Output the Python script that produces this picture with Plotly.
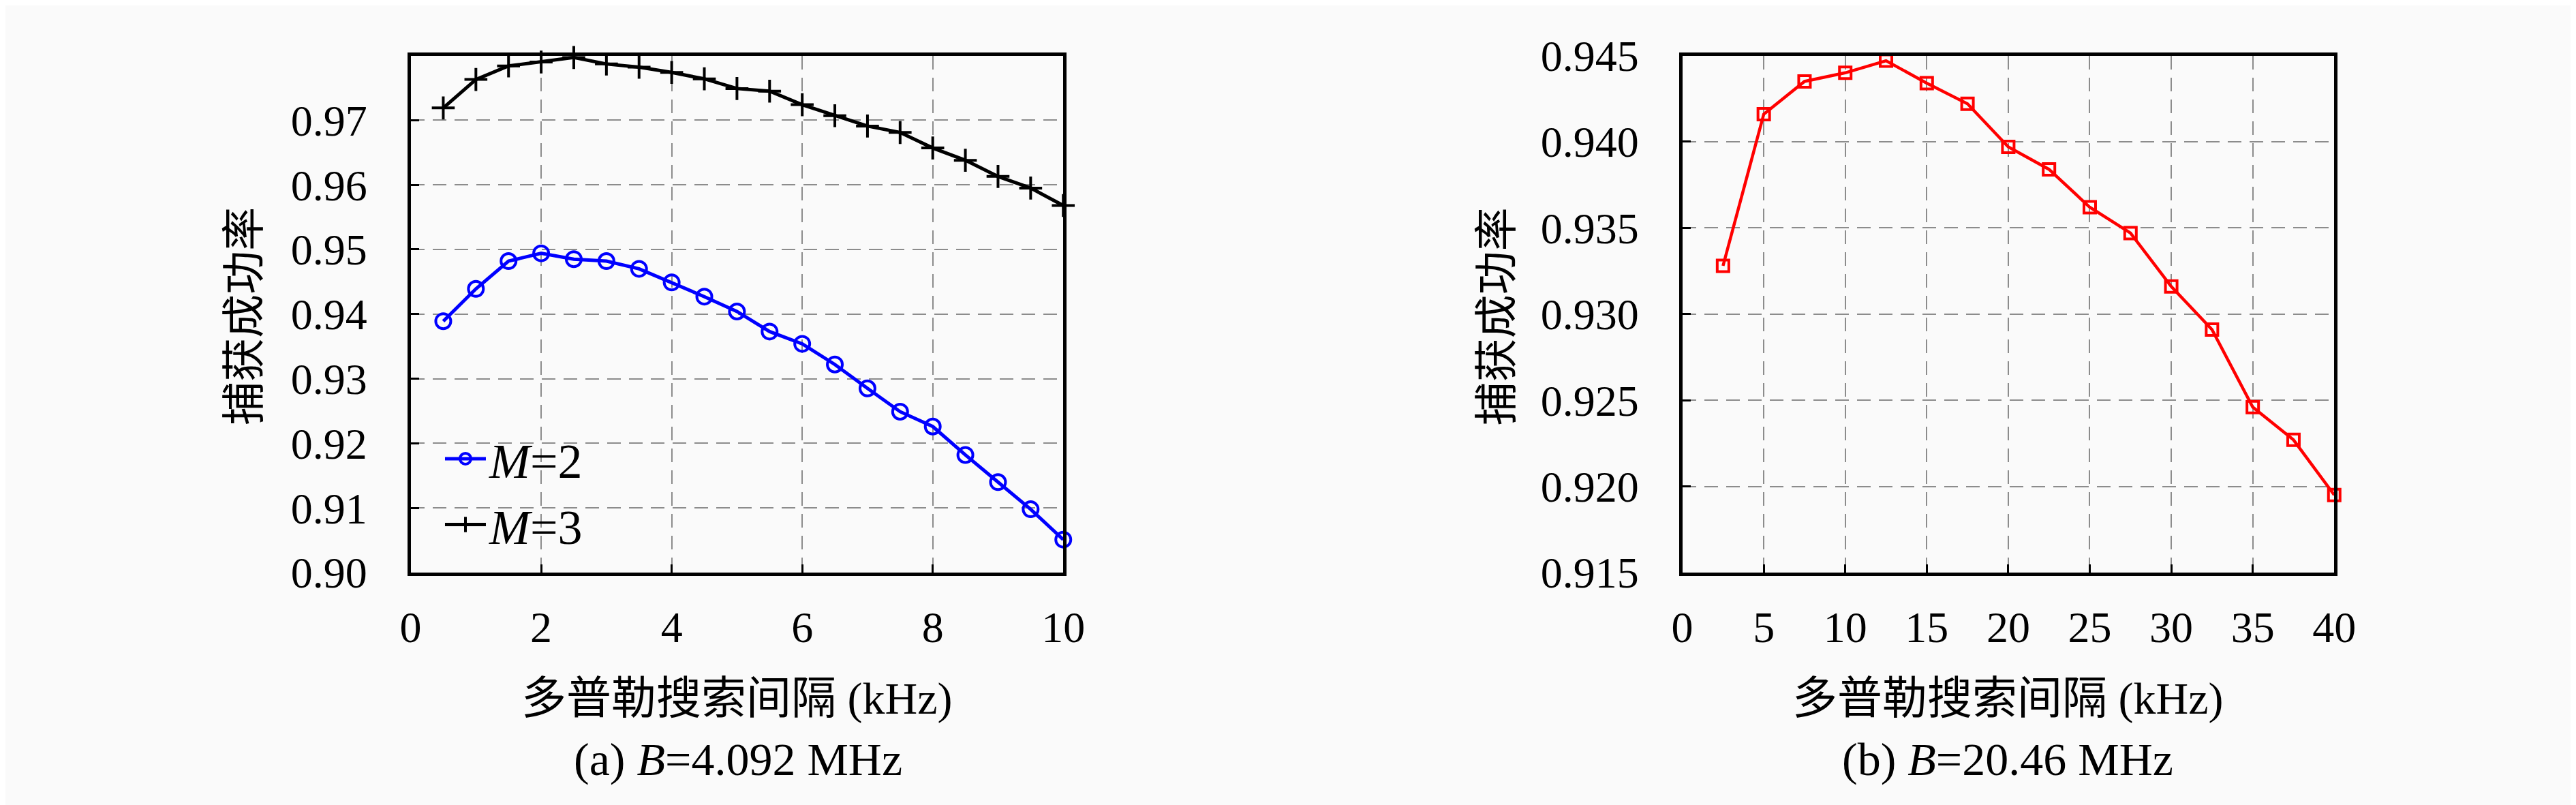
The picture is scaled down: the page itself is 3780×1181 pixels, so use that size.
import plotly.graph_objects as go
from plotly.subplots import make_subplots

# (a) B=4.092 MHz
spacing_a = [0.5, 1, 1.5, 2, 2.5, 3, 3.5, 4, 4.5, 5,
             5.5, 6, 6.5, 7, 7.5, 8, 8.5, 9, 9.5, 10]
rate_m2 = [0.9389, 0.9439, 0.9482, 0.9494, 0.9485, 0.9482, 0.9470, 0.9449, 0.9427, 0.9404,
           0.9373, 0.9354, 0.9322, 0.9285, 0.9249, 0.9226, 0.9182, 0.9140, 0.9098, 0.9051]
rate_m3 = [0.9719, 0.9763, 0.9784, 0.9790, 0.9797, 0.9787, 0.9782, 0.9774, 0.9764, 0.9749,
           0.9745, 0.9724, 0.9707, 0.9691, 0.9681, 0.9657, 0.9638, 0.9613, 0.9595, 0.9568]

# (b) B=20.46 MHz
spacing_b = [2.5, 5, 7.5, 10, 12.5, 15, 17.5, 20, 22.5, 25, 27.5, 30, 32.5, 35, 37.5, 40]
rate_b = [0.9328, 0.9416, 0.9435, 0.9440, 0.9447, 0.9434, 0.9422, 0.9397,
          0.9384, 0.9362, 0.9347, 0.9316, 0.9291, 0.9246, 0.9227, 0.9195]

ticks_ya = [0.90, 0.91, 0.92, 0.93, 0.94, 0.95, 0.96, 0.97]
ticks_yb = [0.915, 0.920, 0.925, 0.930, 0.935, 0.940, 0.945]
ticks_xa = [0, 2, 4, 6, 8, 10]
ticks_xb = [0, 5, 10, 15, 20, 25, 30, 35, 40]

y_title = '捕获成功率'
x_title = '多普勒搜索间隔 (kHz)'
captions = ['(a) <i>B</i>=4.092 MHz', '(b) <i>B</i>=20.46 MHz']

W, H = 3780, 1181
serif = 'Liberation Serif, Noto Sans CJK SC'
bg = '#fafafa'

fig = make_subplots(rows=1, cols=2)

fig.add_trace(go.Scatter(x=spacing_a, y=rate_m2, name='<i>M</i>=2', mode='lines+markers',
                         line=dict(color='#0000ff', width=5),
                         marker=dict(symbol='circle-open', size=22, color='#0000ff',
                                     line=dict(width=4)),
                         cliponaxis=False), row=1, col=1)
fig.add_trace(go.Scatter(x=spacing_a, y=rate_m3, name='<i>M</i>=3', mode='lines+markers',
                         line=dict(color='black', width=5),
                         marker=dict(symbol='cross-thin', size=24, color='black',
                                     line=dict(width=4, color='black')),
                         cliponaxis=False), row=1, col=1)
fig.add_trace(go.Scatter(x=spacing_b, y=rate_b, mode='lines+markers', showlegend=False,
                         line=dict(color='#ff0000', width=4.5),
                         marker=dict(symbol='square-open', size=17, color='#ff0000',
                                     line=dict(width=4)),
                         cliponaxis=False), row=1, col=2)

axis_style = dict(showline=True, mirror=True, linecolor='black', linewidth=5,
                  ticks='inside', ticklen=12, tickwidth=3, tickcolor='black',
                  showgrid=True, gridcolor='#8c8c8c', gridwidth=2, griddash='20px,12px',
                  zeroline=False, tickfont=dict(family=serif, size=64, color='black'))

fig.update_xaxes(axis_style, ticklabelstandoff=20)
fig.update_yaxes(axis_style, ticklabelstandoff=46)

fig.update_xaxes(domain=[586 / W, 1556 / W], range=[0, 10], tickvals=ticks_xa, row=1, col=1)
fig.update_xaxes(domain=[2476 / W, 3445 / W], range=[0, 40], tickvals=ticks_xb, row=1, col=2)
fig.update_yaxes(domain=[(H - 848) / H, (H - 41) / H], range=[0.90, 0.98],
                 tickvals=ticks_ya, tickformat='.2f', row=1, col=1)
fig.update_yaxes(domain=[(H - 848) / H, (H - 41) / H], range=[0.915, 0.945],
                 tickvals=ticks_yb, tickformat='.3f', row=1, col=2)

# 축 제목과 캡션
for cx, ty in [(1071, 338), (2960, 2200)]:
    fig.add_annotation(text=y_title, x=ty / W, y=(H - 448) / H, xref='paper', yref='paper',
                       xanchor='center', yanchor='middle', textangle=-90, showarrow=False,
                       font=dict(family=serif, size=64, color='black'))
    fig.add_annotation(text=x_title, x=cx / W, y=(H - 1045) / H, xref='paper', yref='paper',
                       xanchor='center', yanchor='middle', showarrow=False,
                       font=dict(family=serif, size=66, color='black'))
for cx, cap in zip([1073, 2960], captions):
    fig.add_annotation(text=cap, x=cx / W, y=(H - 1140) / H, xref='paper', yref='paper',
                       xanchor='center', yanchor='middle', showarrow=False,
                       font=dict(family=serif, size=68, color='black'))

fig.update_layout(width=W, height=H, margin=dict(l=0, r=0, t=0, b=0),
                  paper_bgcolor=bg, plot_bgcolor=bg,
                  legend=dict(x=632 / W, y=(H - 722) / H, xanchor='left', yanchor='middle',
                              bgcolor='rgba(0,0,0,0)', itemwidth=60,
                              font=dict(family=serif, size=72, color='black'),
                              tracegroupgap=0))

fig.write_html('out.html')
